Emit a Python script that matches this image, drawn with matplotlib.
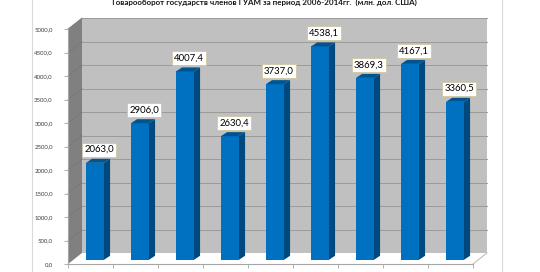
import matplotlib

matplotlib.use("Agg")

import matplotlib.pyplot as plt
from matplotlib.patches import Polygon
from matplotlib.lines import Line2D
import numpy as np

plt.rcParams["font.family"] = ["Lato", "DejaVu Sans"]

title = "Товарооборот государств членов ГУАМ за период 2006-2014гг.  (млн. дол. США)"
years = ["2006", "2007", "2008", "2009", "2010", "2011", "2012", "2013", "2014"]
values = [2063.0, 2906.0, 4007.4, 2630.4, 3737.0, 4538.1, 3869.3, 4167.1, 3360.5]
y_ticks = np.arange(0, 5001, 500)

W, H = 540, 272
fig = plt.figure(figsize=(W / 100, H / 100), dpi=100)
fig.patch.set_facecolor("white")

# chart border (cut by the image edges)
for px in (32, 502):
    fig.add_artist(Line2D([px / W, px / W], [0, 1], transform=fig.transFigure,
                          color="#d9d9d9", lw=0.8))

fig.text(264 / W, 1 - 5 / H, title, ha="center", va="baseline",
         fontsize=5.8, fontweight="bold", color="#1a1a1a")

ax = fig.add_axes([68 / W, 8 / H, 405 / W, 235 / H])
n = len(values)
ax.set_xlim(-0.5, n - 0.5)
ax.set_ylim(0, 5000)
ax.set_facecolor("none")

# depth offsets in data units
ox, oy = 0.311, 234      # back wall
bx, by = 0.10, 90        # bar front face
dxb, dyb = 0.135, 85     # bar depth
w = 0.4
x0, x1 = -0.5, n - 0.5

floor = Polygon([(x0, 0), (x1, 0), (x1 + ox, oy), (x0 + ox, oy)], closed=True,
                fc="white", ec="none", clip_on=False, zorder=0)
ax.add_patch(floor)
ax.add_line(Line2D([x1, x1 + ox], [0, oy], color="#bfbfbf", lw=0.8, clip_on=False, zorder=1))

back = Polygon([(x0 + ox, oy), (x1 + ox, oy), (x1 + ox, 5000 + oy), (x0 + ox, 5000 + oy)],
               closed=True, fc="#c0c0c0", ec="none", clip_on=False, zorder=0)
ax.add_patch(back)
side = Polygon([(x0, 0), (x0 + ox, oy), (x0 + ox, 5000 + oy), (x0, 5000)],
               closed=True, fc="#808080", ec="none", clip_on=False, zorder=0)
ax.add_patch(side)

for t in y_ticks[1:]:
    ax.add_line(Line2D([x0 + ox, x1 + ox], [t + oy, t + oy], color="#9a9a9a",
                       lw=0.7, clip_on=False, zorder=1))
    ax.add_line(Line2D([x0, x0 + ox], [t, t + oy], color="#767676",
                       lw=0.5, clip_on=False, zorder=1))

xs = np.arange(n)
ax.bar(xs + bx, values, width=w, bottom=by, color="#0070c0", zorder=3)
for xi, v in zip(xs, values):
    xr = xi + bx + w / 2
    xl = xi + bx - w / 2
    top = v + by
    ax.add_patch(Polygon([(xr, by), (xr + dxb, by + dyb), (xr + dxb, top + dyb), (xr, top)],
                         closed=True, fc="#00497f", ec="none", zorder=3, clip_on=False))
    ax.add_patch(Polygon([(xl, top), (xr, top), (xr + dxb, top + dyb), (xl + dxb, top + dyb)],
                         closed=True, fc="#00548f", ec="none", zorder=3, clip_on=False))
    ax.text(xi + bx + 0.09, top + 280, f"{v:.1f}".replace(".", ","), ha="center", va="center",
            fontsize=6.9, color="black", zorder=5,
            bbox=dict(boxstyle="square,pad=0.25", fc="white", ec="#cfc6a4", lw=0.6))

for s in ("top", "right"):
    ax.spines[s].set_visible(False)
for s in ("left", "bottom"):
    ax.spines[s].set_color("#a6a6a6")
    ax.spines[s].set_linewidth(0.8)

ax.set_yticks(y_ticks)
ax.set_yticklabels([f"{t:.1f}".replace(".", ",") for t in y_ticks])
ax.set_xticks(np.arange(-0.5, n, 1.0))
ax.set_xticklabels([])
ax.tick_params(axis="y", length=3, width=0.6, color="#a6a6a6", labelsize=4.3,
               labelcolor="#404040", pad=8)
ax.tick_params(axis="x", length=3, width=0.6, color="#a6a6a6")

fig.savefig("out.png", dpi=100)
